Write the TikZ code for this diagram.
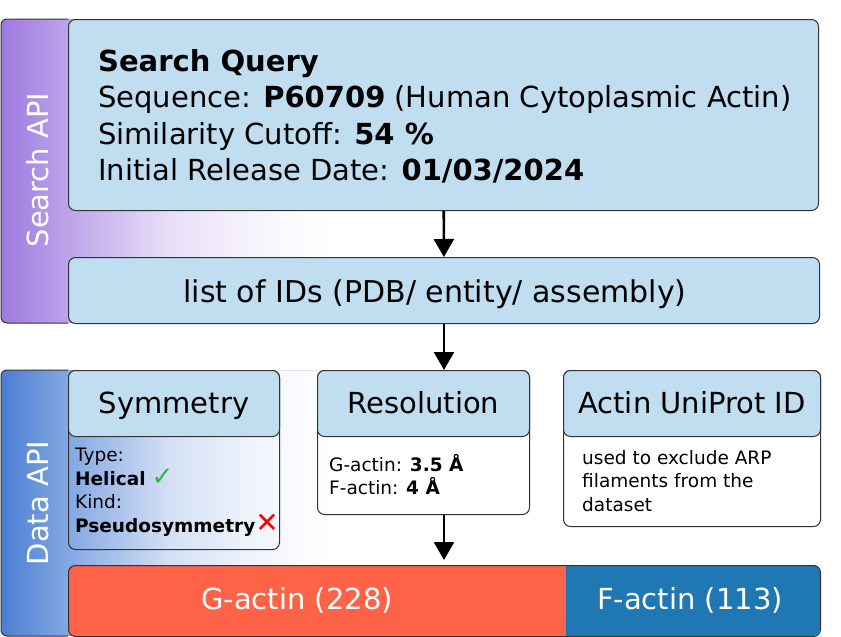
\documentclass[tikz,border=0pt]{standalone}
\usepackage{fontspec}
\setmainfont{DejaVu Sans}
\usetikzlibrary{arrows.meta,positioning,calc}
\definecolor{searchpurple}{HTML}{9E79E0}
\definecolor{datablue}{HTML}{4A7ED4}
\definecolor{headblue}{HTML}{C0DEF0}
\definecolor{gactinred}{HTML}{FF6347}
\definecolor{factinblue}{HTML}{1F77B4}
\definecolor{edgegray}{HTML}{333333}
\definecolor{okgreen}{HTML}{2DB82D}
\newcommand{\bigtxt}{\fontsize{29}{36.4}\selectfont}
\newcommand{\smalltxt}{\fontsize{18.5}{23.5}\selectfont}
\newcommand{\yes}{\smash{\textcolor{okgreen}{\fontsize{26}{26}\selectfont ✓}}}
\newcommand{\no}{\smash{\textcolor{red}{\fontsize{28}{28}\selectfont ✕}}}

% fades of the two API bands (x from 1 to 818)
\pgfdeclarehorizontalshading{searchfade}{100bp}{color(0bp)=(searchpurple);
  color(25bp)=(searchpurple); color(29.1bp)=(searchpurple!68!white);
  color(35.3bp)=(searchpurple!24!white); color(40.2bp)=(searchpurple!9!white);
  color(45.1bp)=(white); color(100bp)=(white)}
\pgfdeclarehorizontalshading{datafade}{100bp}{color(0bp)=(datablue);
  color(25bp)=(datablue); color(29.1bp)=(datablue!68!white);
  color(35.3bp)=(datablue!24!white); color(40.2bp)=(datablue!9!white);
  color(45.1bp)=(white); color(100bp)=(white)}

\tikzset{
  box/.style={draw=edgegray, line width=1pt, rounded corners=7pt,
    inner sep=0pt, anchor=north west},
  headbox/.style={box, fill=headblue, font=\bigtxt},
  flow/.style={-{Triangle[width=20pt,length=18pt]}, line width=2.6pt},
  apilabel/.style={rotate=90, text=white, font=\bigtxt},
  bodytext/.style={anchor=north west, align=left, inner sep=0pt, font=\smalltxt},
}

\begin{document}
\begin{tikzpicture}[x=1pt,y=-1pt]
  \useasboundingbox (0,0) rectangle (841,637);

  % API bands
  \shade[shading=searchfade, rounded corners=6pt] (1,19) rectangle (817,323);
  \draw[edgegray, line width=1pt, rounded corners=6pt]
    (68,19) -- (1,19) -- (1,323) -- (68,323);
  \shade[shading=datafade, rounded corners=6pt] (1,370) rectangle (817,636);
  \draw[edgegray, line width=1pt, rounded corners=6pt]
    (68,370) -- (1,370) -- (1,636) -- (68,636);
  \draw[gray!25, line width=1pt] (279,370) -- (317,370);
  \node[apilabel] (searchapi) at (38,170) {Search API};
  \node[apilabel] (dataapi) at (38,503) {Data API};

  % search part
  \node[headbox, minimum width=750pt, minimum height=191pt] (query) at (68,19) {};
  \node[bodytext, font=\bigtxt] (querytext) at (98,49)
    {\textbf{Search Query}\\
     Sequence: \textbf{P60709} (Human Cytoplasmic Actin)\\
     Similarity Cutoff: \textbf{54 \%}\\
     Initial Release Date: \textbf{01/03/2024}};
  \node[headbox, minimum width=751pt, minimum height=66pt] (ids) at (68,257) {};
  \node[font=\fontsize{30}{36}\selectfont, anchor=base] (idstext) at (435,302)
    {list of IDs (PDB/ entity/ assembly)};

  % data part
  \node[box, minimum width=211pt, minimum height=179pt] (symbody) at (68,370) {};
  \node[headbox, minimum width=211pt, minimum height=66pt,
    text height=22pt, text depth=3pt] (symhead) at (68,370) {Symmetry};
  \node[bodytext] (symtext) at (75,448)
    {Type:\\
     \textbf{Helical} \yes\\
     Kind:\\
     \textbf{Pseudosymmetry}\no};

  \node[box, minimum width=212pt, minimum height=144pt] (resbody) at (317,370) {};
  \node[headbox, minimum width=212pt, minimum height=66pt,
    text height=22pt, text depth=3pt] (reshead) at (317,370) {Resolution};
  \node[bodytext] (restext) at (329,454)
    {G-actin: \textbf{3.5 Å}\\
     F-actin: \textbf{4 Å}};

  \node[box, minimum width=257pt, minimum height=156pt] (unibody) at (563,370) {};
  \node[headbox, minimum width=257pt, minimum height=66pt,
    text height=22pt, text depth=3pt] (unihead) at (563,370) {Actin UniProt ID};
  \node[bodytext] (unitext) at (582,450)
    {used to exclude ARP\\
     filaments from the\\
     dataset};

  % result bar
  \begin{scope}
    \clip[rounded corners=7pt] (68,565) rectangle (820,636);
    \node[fill=gactinred, anchor=north west, minimum width=498pt,
      minimum height=71pt, inner sep=0pt] (gactin) at (68,565) {};
    \node[fill=factinblue, anchor=north west, minimum width=254pt,
      minimum height=71pt, inner sep=0pt] (factin) at (566,565) {};
  \end{scope}
  \node[box, minimum width=752pt, minimum height=71pt] (bar) at (68,565) {};
  \node[font=\bigtxt, text=white, anchor=base] (gactintext) at (297,609) {G-actin (228)};
  \node[font=\bigtxt, text=white, anchor=base] (factintext) at (690,609) {F-actin (113)};

  % arrows
  \draw[flow] (query) -- (ids);
  \draw[flow] (ids.south) -- (ids.south |- reshead.north);
  \draw[flow, shorten >=5pt] (ids.south |- resbody.south) -- (ids.south |- bar.north);
\end{tikzpicture}
\end{document}
